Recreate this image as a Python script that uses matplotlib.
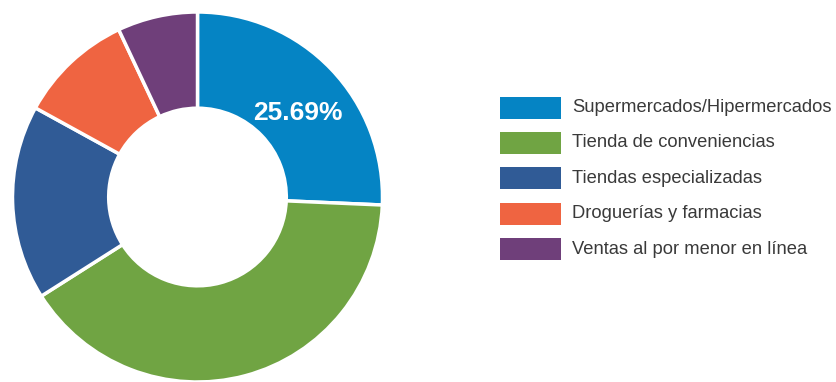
import matplotlib

matplotlib.use("Agg")
from matplotlib import pyplot as plt
from matplotlib.patches import Rectangle

labels = [
    "Supermercados/Hipermercados",
    "Tienda de conveniencias",
    "Tiendas especializadas",
    "Droguerías y farmacias",
    "Ventas al por menor en línea",
]
shares = [25.69, 40.31, 17.0, 10.0, 7.0]
colors = ["#0584C4", "#70A443", "#305B96", "#EF6441", "#6F3F7A"]
shown_label = "25.69%"

W, H = 836, 382
fig = plt.figure(figsize=(W / 100, H / 100), dpi=100)

# donut: centre (197.5, 197) px, radius 185 px
cx, cy, r = 197.5, 197, 185
ax = fig.add_axes([(cx - r) / W, (H - cy - r) / H, 2 * r / W, 2 * r / H])
ax.pie(
    shares,
    colors=colors,
    startangle=90,
    counterclock=False,
    radius=1,
    wedgeprops=dict(width=0.52, edgecolor="white", linewidth=2.5),
)
ax.set_xlim(-1, 1)
ax.set_ylim(-1, 1)
ax.set_aspect("equal")
ax.axis("off")

ax.text(
    0.54,
    0.455,
    shown_label,
    color="white",
    fontsize=19,
    fontweight="bold",
    family="Liberation Sans",
    ha="center",
    va="center",
)

# legend
x0, y0, pitch = 500, 107.5, 35.4
pw, ph = 61, 22
for i, (lab, col) in enumerate(zip(labels, colors)):
    yc = y0 + i * pitch
    fig.add_artist(
        Rectangle(
            (x0 / W, (H - yc - ph / 2) / H),
            pw / W,
            ph / H,
            transform=fig.transFigure,
            facecolor=col,
            edgecolor="none",
        )
    )
    fig.text(
        572 / W,
        (H - yc) / H,
        lab,
        fontsize=13.2,
        family="Liberation Sans",
        color="#3a3a3a",
        ha="left",
        va="center",
    )

fig.savefig("out.png", dpi=100, facecolor="white")
